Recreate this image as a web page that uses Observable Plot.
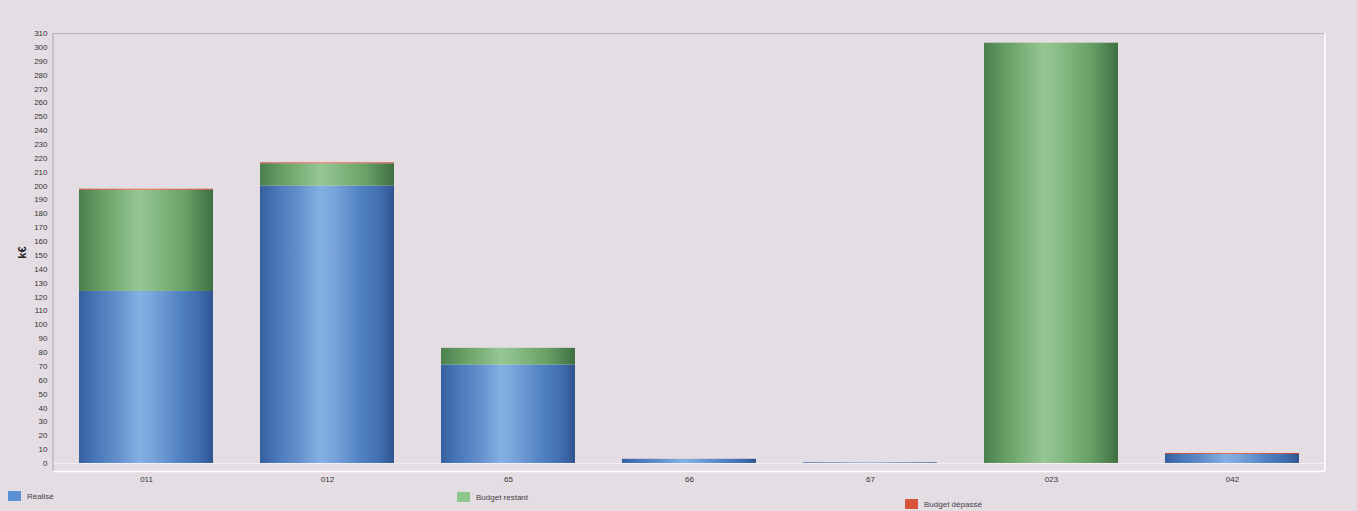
<!DOCTYPE html>
<html><head><meta charset="utf-8">
<script src="https://cdn.jsdelivr.net/npm/d3@7"></script>
<script src="https://cdn.jsdelivr.net/npm/@observablehq/plot@0.6"></script>
<style>
html,body{margin:0;padding:0;background:#e4dde3;}
#wrap{position:relative;width:1357px;height:511px;background:#e4dde3;font-family:"Liberation Sans",Arial,sans-serif;overflow:hidden;}
.leg{position:absolute;font-size:8px;color:#444;display:flex;align-items:center;gap:6px;}
.sw{width:13px;height:10px;display:inline-block;}
</style></head>
<body><div id="wrap"></div>
<script>
const categories = ["011","012","65","66","67","023","042"];
const seriesNames = ["Réalisé","Budget restant","Budget dépassé"];
const realise = [124, 200, 71, 3, 0.5, 0, 6.5];
const restant = [73, 16, 12, 0, 0, 303, 0];
const depasse = [0.7, 0.7, 0, 0, 0, 0, 0.7];
const yTicks = d3.range(0, 311, 10);

const rows = [];
categories.forEach((c, i) => {
  rows.push({cat: c, series: seriesNames[0], value: realise[i]});
  rows.push({cat: c, series: seriesNames[1], value: restant[i]});
  rows.push({cat: c, series: seriesNames[2], value: depasse[i]});
});

const svg = Plot.plot({
  width: 1357, height: 488,
  marginLeft: 53, marginRight: 32, marginTop: 33, marginBottom: 17,
  style: {background: "transparent", fontFamily: "Liberation Sans, Arial, sans-serif", fontSize: "8px", color: "#333"},
  x: {domain: categories, paddingInner: 0.26, paddingOuter: 0.13, label: null},
  y: {domain: [-5.8, 310], label: null},
  color: {domain: seriesNames, range: ["url(#gBlue)", "url(#gGreen)", "url(#gRed)"]},
  marks: [
    Plot.ruleY([310], {stroke: "#b9b3bb", strokeWidth: 1}),
    Plot.ruleY([-5.8], {stroke: "#ffffff", strokeWidth: 1.5}),
    Plot.ruleY([0], {stroke: "#f4f0f4", strokeWidth: 1}),
    Plot.barY(rows, {x: "cat", y: "value", fill: "series", order: seriesNames}),
    Plot.axisX({tickSize: 0, tickPadding: 5}),
    Plot.axisY({ticks: yTicks, tickSize: 0, tickPadding: 6, tickFormat: d => d, label: "k€", labelAnchor: "center", labelArrow: "none", labelOffset: 35})
  ]
});

// gradients for the cylinder-like shading
const defs = d3.select(svg).insert("defs", ":first-child");
function grad(id, stops) {
  const g = defs.append("linearGradient").attr("id", id).attr("x1", "0").attr("x2", "1").attr("y1", "0").attr("y2", "0");
  stops.forEach(([o, c]) => g.append("stop").attr("offset", o).attr("stop-color", c));
}
grad("gBlue", [[0, "#35609f"], [0.12, "#4876b8"], [0.3, "#6592cc"], [0.45, "#84b1e3"], [0.55, "#78a4da"], [0.75, "#5282c3"], [0.9, "#406db0"], [1, "#2f548f"]]);
grad("gGreen", [[0, "#4b7f4d"], [0.15, "#649c63"], [0.45, "#96c792"], [0.55, "#8abd87"], [0.8, "#679f66"], [1, "#3f6f42"]]);
grad("gRed", [[0, "#b8432c"], [0.5, "#e2694a"], [1, "#b8432c"]]);

// plot frame: left axis line (grey) and right edge (white)
const sel = d3.select(svg);
sel.append("line").attr("x1", 53).attr("x2", 53).attr("y1", 33).attr("y2", 471).attr("stroke", "#aaa4ac");
sel.append("line").attr("x1", 1325).attr("x2", 1325).attr("y1", 33).attr("y2", 471).attr("stroke", "#ffffff").attr("stroke-width", 1.5);
sel.selectAll("[aria-label='y-axis label'] text, [aria-label='y-axis label']").style("font-weight", "bold").style("font-size", "11px").style("fill", "#222");

const wrap = document.getElementById("wrap");
wrap.appendChild(svg);
svg.style.position = "absolute"; svg.style.left = "0"; svg.style.top = "0";

const legendItems = [
  {name: seriesNames[0], color: "#5b8fd6", left: 8, top: 491},
  {name: seriesNames[1], color: "#8cc68a", left: 457, top: 492},
  {name: seriesNames[2], color: "#d6553a", left: 905, top: 499}
];
legendItems.forEach(it => {
  const d = document.createElement("div");
  d.className = "leg";
  d.style.left = it.left + "px"; d.style.top = it.top + "px";
  d.innerHTML = `<span class="sw" style="background:${it.color}"></span><span>${it.name}</span>`;
  wrap.appendChild(d);
});
</script></body></html>
